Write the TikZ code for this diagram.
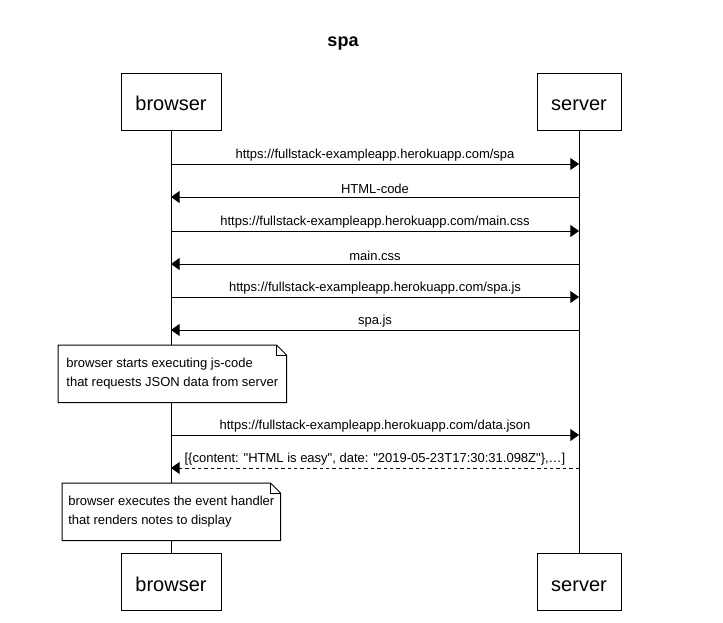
\documentclass[tikz,border=0pt]{standalone}
\usepackage{fontspec}
\setmainfont{Liberation Sans}[Ligatures=TeXOff]
\usetikzlibrary{arrows.meta, positioning}

\tikzset{
  actor/.style={draw, line width=0.75pt, minimum height=42.75pt, inner sep=0pt,
    text height=13.6pt, text depth=0pt, font=\fontsize{15}{18}\selectfont},
  msg/.style={line width=0.75pt, -{Triangle[length=6.5pt, width=9pt]}},
  reply/.style={msg, dash pattern=on 2.6pt off 2.2pt},
  lbl/.style={above, inner sep=2pt, font=\fontsize{9.75}{11}\selectfont},
  notebox/.style={fill=white, anchor=north west, align=left, inner sep=0pt,
    minimum height=42.75pt, font=\fontsize{9.75}{14}\selectfont},
}
\newcommand{\dogear}[1]{%
  \draw[line width=0.75pt] (#1.north west) -- ([xshift=-7.5pt]#1.north east)
    -- ([yshift=-7.5pt]#1.north east) -- (#1.south east) -- (#1.south west) -- cycle;
  \draw[line width=0.75pt] ([xshift=-7.5pt]#1.north east) |- ([yshift=-7.5pt]#1.north east);
}

\begin{document}
\begin{tikzpicture}[x=0.75pt, y=-0.75pt]
    \fill[white] (0,0) rectangle (723,622);
    \useasboundingbox (0,0) rectangle (723,622);

    % --- title and participants ---
    \node[font=\bfseries\fontsize{13.5}{16}\selectfont] (title) at (343,44) {spa};
    \node[actor, minimum width=75pt] (browserTop) at (171,101.5) {browser};
    \node[actor, minimum width=63pt] (serverTop)  at (579,101.5) {server};
    \node[actor, minimum width=75pt] (browserBot) at (171,582) {browser};
    \node[actor, minimum width=63pt] (serverBot)  at (579,582) {server};

    % --- lifelines ---
    \draw[line width=0.75pt] (browserTop) -- (browserBot);
    \draw[line width=0.75pt] (serverTop) -- (serverBot);

    % message anchors on the lifelines
    \foreach \y [count=\i] in {164,197,231,264,297,330,435,468} {
      \coordinate (b\i) at (171,\y);
      \coordinate (s\i) at (579,\y);
    }

    % --- page load ---
    \draw[msg] (b1) -- node[lbl] {https://fullstack-exampleapp.herokuapp.com/spa} (s1);
    \draw[msg] (s2) -- node[lbl] {HTML-code} (b2);
    \draw[msg] (b3) -- node[lbl] {https://fullstack-exampleapp.herokuapp.com/main.css} (s3);
    \draw[msg] (s4) -- node[lbl] {main.css} (b4);
    \draw[msg] (b5) -- node[lbl] {https://fullstack-exampleapp.herokuapp.com/spa.js} (s5);
    \draw[msg] (s6) -- node[lbl] {spa.js} (b6);

    \node[notebox, minimum width=171pt] (note1) at (58,345)
      {browser starts executing js-code\\that requests JSON data from server};
    \dogear{note1}

    % --- data ---
    \draw[msg] (b7) -- node[lbl] {https://fullstack-exampleapp.herokuapp.com/data.json} (s7);
    \draw[reply] (s8) -- node[lbl] {[\{content: "HTML is easy", date: "2019-05-23T17:30:31.098Z"\},…]} (b8);

    \node[notebox, minimum width=163.5pt] (note2) at (62,483)
      {browser executes the event handler\\that renders notes to display};
    \dogear{note2}
\end{tikzpicture}
\end{document}
